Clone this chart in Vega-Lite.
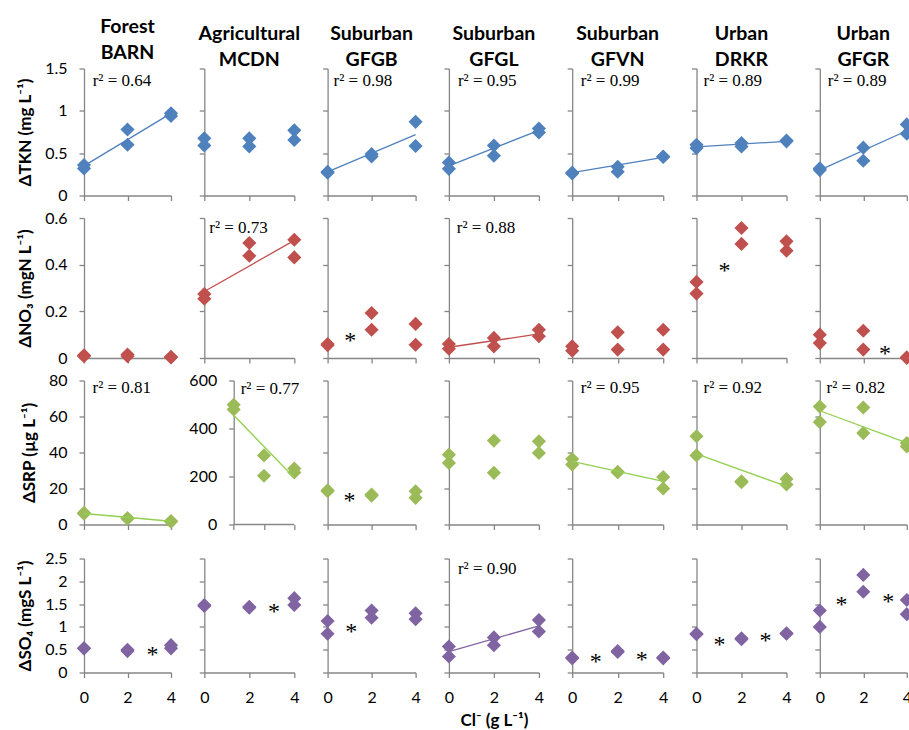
{
"$schema": "https://vega.github.io/schema/vega-lite/v6.json",
"padding": {"left": 16, "top": 16.5, "right": 0, "bottom": 0},
"background": "white",
"datasets": {
"pts": [
{"s":"BARN","v":"TKN","x":0,"y":0.36},{"s":"BARN","v":"TKN","x":0,"y":0.32},{"s":"BARN","v":"TKN","x":2,"y":0.78},{"s":"BARN","v":"TKN","x":2,"y":0.60},{"s":"BARN","v":"TKN","x":4,"y":0.97},{"s":"BARN","v":"TKN","x":4,"y":0.94},
{"s":"MCDN","v":"TKN","x":0,"y":0.675},{"s":"MCDN","v":"TKN","x":0,"y":0.59},{"s":"MCDN","v":"TKN","x":2,"y":0.675},{"s":"MCDN","v":"TKN","x":2,"y":0.58},{"s":"MCDN","v":"TKN","x":4,"y":0.77},{"s":"MCDN","v":"TKN","x":4,"y":0.655},
{"s":"GFGB","v":"TKN","x":0,"y":0.28},{"s":"GFGB","v":"TKN","x":0,"y":0.27},{"s":"GFGB","v":"TKN","x":2,"y":0.49},{"s":"GFGB","v":"TKN","x":2,"y":0.46},{"s":"GFGB","v":"TKN","x":4,"y":0.87},{"s":"GFGB","v":"TKN","x":4,"y":0.585},
{"s":"GFGL","v":"TKN","x":0,"y":0.39},{"s":"GFGL","v":"TKN","x":0,"y":0.315},{"s":"GFGL","v":"TKN","x":2,"y":0.59},{"s":"GFGL","v":"TKN","x":2,"y":0.47},{"s":"GFGL","v":"TKN","x":4,"y":0.79},{"s":"GFGL","v":"TKN","x":4,"y":0.745},
{"s":"GFVN","v":"TKN","x":0,"y":0.27},{"s":"GFVN","v":"TKN","x":0,"y":0.26},{"s":"GFVN","v":"TKN","x":2,"y":0.34},{"s":"GFVN","v":"TKN","x":2,"y":0.28},{"s":"GFVN","v":"TKN","x":4,"y":0.46},{"s":"GFVN","v":"TKN","x":4,"y":0.455},
{"s":"DRKR","v":"TKN","x":0,"y":0.6},{"s":"DRKR","v":"TKN","x":0,"y":0.56},{"s":"DRKR","v":"TKN","x":2,"y":0.62},{"s":"DRKR","v":"TKN","x":2,"y":0.58},{"s":"DRKR","v":"TKN","x":4,"y":0.65},{"s":"DRKR","v":"TKN","x":4,"y":0.64},
{"s":"GFGR","v":"TKN","x":0,"y":0.32},{"s":"GFGR","v":"TKN","x":0,"y":0.30},{"s":"GFGR","v":"TKN","x":2,"y":0.565},{"s":"GFGR","v":"TKN","x":2,"y":0.41},{"s":"GFGR","v":"TKN","x":4,"y":0.84},{"s":"GFGR","v":"TKN","x":4,"y":0.73},
{"s":"BARN","v":"NO3","x":0,"y":0.012},{"s":"BARN","v":"NO3","x":0,"y":0.008},{"s":"BARN","v":"NO3","x":2,"y":0.015},{"s":"BARN","v":"NO3","x":2,"y":0.008},{"s":"BARN","v":"NO3","x":4,"y":0.005},{"s":"BARN","v":"NO3","x":4,"y":0.002},
{"s":"MCDN","v":"NO3","x":0,"y":0.274},{"s":"MCDN","v":"NO3","x":0,"y":0.254},{"s":"MCDN","v":"NO3","x":2,"y":0.493},{"s":"MCDN","v":"NO3","x":2,"y":0.438},{"s":"MCDN","v":"NO3","x":4,"y":0.507},{"s":"MCDN","v":"NO3","x":4,"y":0.431},
{"s":"GFGB","v":"NO3","x":0,"y":0.06},{"s":"GFGB","v":"NO3","x":0,"y":0.055},{"s":"GFGB","v":"NO3","x":2,"y":0.193},{"s":"GFGB","v":"NO3","x":2,"y":0.121},{"s":"GFGB","v":"NO3","x":4,"y":0.146},{"s":"GFGB","v":"NO3","x":4,"y":0.057},
{"s":"GFGL","v":"NO3","x":0,"y":0.06},{"s":"GFGL","v":"NO3","x":0,"y":0.04},{"s":"GFGL","v":"NO3","x":2,"y":0.086},{"s":"GFGL","v":"NO3","x":2,"y":0.05},{"s":"GFGL","v":"NO3","x":4,"y":0.121},{"s":"GFGL","v":"NO3","x":4,"y":0.093},
{"s":"GFVN","v":"NO3","x":0,"y":0.05},{"s":"GFVN","v":"NO3","x":0,"y":0.031},{"s":"GFVN","v":"NO3","x":2,"y":0.11},{"s":"GFVN","v":"NO3","x":2,"y":0.036},{"s":"GFVN","v":"NO3","x":4,"y":0.121},{"s":"GFVN","v":"NO3","x":4,"y":0.036},
{"s":"DRKR","v":"NO3","x":0,"y":0.326},{"s":"DRKR","v":"NO3","x":0,"y":0.276},{"s":"DRKR","v":"NO3","x":2,"y":0.557},{"s":"DRKR","v":"NO3","x":2,"y":0.489},{"s":"DRKR","v":"NO3","x":4,"y":0.5},{"s":"DRKR","v":"NO3","x":4,"y":0.46},
{"s":"GFGR","v":"NO3","x":0,"y":0.1},{"s":"GFGR","v":"NO3","x":0,"y":0.064},{"s":"GFGR","v":"NO3","x":2,"y":0.117},{"s":"GFGR","v":"NO3","x":2,"y":0.036},{"s":"GFGR","v":"NO3","x":4,"y":0.003},{"s":"GFGR","v":"NO3","x":4,"y":0.0},
{"s":"BARN","v":"SRP","x":0,"y":6.5},{"s":"BARN","v":"SRP","x":0,"y":6.0},{"s":"BARN","v":"SRP","x":2,"y":3.6},{"s":"BARN","v":"SRP","x":2,"y":3.2},{"s":"BARN","v":"SRP","x":4,"y":1.9},{"s":"BARN","v":"SRP","x":4,"y":1.5},
{"s":"MCDN","v":"SRP","x":0,"y":499},{"s":"MCDN","v":"SRP","x":0,"y":479},{"s":"MCDN","v":"SRP","x":2,"y":288},{"s":"MCDN","v":"SRP","x":2,"y":203},{"s":"MCDN","v":"SRP","x":4,"y":233},{"s":"MCDN","v":"SRP","x":4,"y":217},
{"s":"GFGB","v":"SRP","x":0,"y":19},{"s":"GFGB","v":"SRP","x":0,"y":18.5},{"s":"GFGB","v":"SRP","x":2,"y":16.6},{"s":"GFGB","v":"SRP","x":2,"y":16},{"s":"GFGB","v":"SRP","x":4,"y":18.5},{"s":"GFGB","v":"SRP","x":4,"y":14.8},
{"s":"GFGL","v":"SRP","x":0,"y":38.8},{"s":"GFGL","v":"SRP","x":0,"y":34.2},{"s":"GFGL","v":"SRP","x":2,"y":46.6},{"s":"GFGL","v":"SRP","x":2,"y":28.7},{"s":"GFGL","v":"SRP","x":4,"y":46.2},{"s":"GFGL","v":"SRP","x":4,"y":39.7},
{"s":"GFVN","v":"SRP","x":0,"y":36.4},{"s":"GFVN","v":"SRP","x":0,"y":33.3},{"s":"GFVN","v":"SRP","x":2,"y":29.2},{"s":"GFVN","v":"SRP","x":2,"y":29.0},{"s":"GFVN","v":"SRP","x":4,"y":26.4},{"s":"GFVN","v":"SRP","x":4,"y":20},
{"s":"DRKR","v":"SRP","x":0,"y":49},{"s":"DRKR","v":"SRP","x":0,"y":38.4},{"s":"DRKR","v":"SRP","x":2,"y":24},{"s":"DRKR","v":"SRP","x":2,"y":23.5},{"s":"DRKR","v":"SRP","x":4,"y":25.3},{"s":"DRKR","v":"SRP","x":4,"y":22.2},
{"s":"GFGR","v":"SRP","x":0,"y":65.5},{"s":"GFGR","v":"SRP","x":0,"y":56.9},{"s":"GFGR","v":"SRP","x":2,"y":65},{"s":"GFGR","v":"SRP","x":2,"y":50.8},{"s":"GFGR","v":"SRP","x":4,"y":45.3},{"s":"GFGR","v":"SRP","x":4,"y":43.4},
{"s":"BARN","v":"SO4","x":0,"y":0.53},{"s":"BARN","v":"SO4","x":0,"y":0.53},{"s":"BARN","v":"SO4","x":2,"y":0.5},{"s":"BARN","v":"SO4","x":2,"y":0.47},{"s":"BARN","v":"SO4","x":4,"y":0.6},{"s":"BARN","v":"SO4","x":4,"y":0.53},
{"s":"MCDN","v":"SO4","x":0,"y":1.48},{"s":"MCDN","v":"SO4","x":0,"y":1.46},{"s":"MCDN","v":"SO4","x":2,"y":1.44},{"s":"MCDN","v":"SO4","x":2,"y":1.42},{"s":"MCDN","v":"SO4","x":4,"y":1.63},{"s":"MCDN","v":"SO4","x":4,"y":1.48},
{"s":"GFGB","v":"SO4","x":0,"y":1.13},{"s":"GFGB","v":"SO4","x":0,"y":0.85},{"s":"GFGB","v":"SO4","x":2,"y":1.36},{"s":"GFGB","v":"SO4","x":2,"y":1.2},{"s":"GFGB","v":"SO4","x":4,"y":1.3},{"s":"GFGB","v":"SO4","x":4,"y":1.17},
{"s":"GFGL","v":"SO4","x":0,"y":0.57},{"s":"GFGL","v":"SO4","x":0,"y":0.35},{"s":"GFGL","v":"SO4","x":2,"y":0.77},{"s":"GFGL","v":"SO4","x":2,"y":0.6},{"s":"GFGL","v":"SO4","x":4,"y":1.15},{"s":"GFGL","v":"SO4","x":4,"y":0.9},
{"s":"GFVN","v":"SO4","x":0,"y":0.33},{"s":"GFVN","v":"SO4","x":0,"y":0.31},{"s":"GFVN","v":"SO4","x":2,"y":0.47},{"s":"GFVN","v":"SO4","x":2,"y":0.45},{"s":"GFVN","v":"SO4","x":4,"y":0.33},{"s":"GFVN","v":"SO4","x":4,"y":0.31},
{"s":"DRKR","v":"SO4","x":0,"y":0.85},{"s":"DRKR","v":"SO4","x":0,"y":0.84},{"s":"DRKR","v":"SO4","x":2,"y":0.75},{"s":"DRKR","v":"SO4","x":2,"y":0.73},{"s":"DRKR","v":"SO4","x":4,"y":0.86},{"s":"DRKR","v":"SO4","x":4,"y":0.85},
{"s":"GFGR","v":"SO4","x":0,"y":1.36},{"s":"GFGR","v":"SO4","x":0,"y":1.0},{"s":"GFGR","v":"SO4","x":2,"y":2.14},{"s":"GFGR","v":"SO4","x":2,"y":1.77},{"s":"GFGR","v":"SO4","x":4,"y":1.59},{"s":"GFGR","v":"SO4","x":4,"y":1.28}
],
"fit": [
{"s":"BARN","v":"TKN","x":0,"y":0.35},{"s":"BARN","v":"TKN","x":4,"y":0.97},
{"s":"GFGB","v":"TKN","x":0,"y":0.28},{"s":"GFGB","v":"TKN","x":4,"y":0.72},
{"s":"GFGL","v":"TKN","x":0,"y":0.35},{"s":"GFGL","v":"TKN","x":4,"y":0.77},
{"s":"GFVN","v":"TKN","x":0,"y":0.27},{"s":"GFVN","v":"TKN","x":4,"y":0.45},
{"s":"DRKR","v":"TKN","x":0,"y":0.575},{"s":"DRKR","v":"TKN","x":4,"y":0.64},
{"s":"GFGR","v":"TKN","x":0,"y":0.30},{"s":"GFGR","v":"TKN","x":4,"y":0.765},
{"s":"MCDN","v":"NO3","x":0,"y":0.285},{"s":"MCDN","v":"NO3","x":4,"y":0.504},
{"s":"GFGL","v":"NO3","x":0,"y":0.046},{"s":"GFGL","v":"NO3","x":4,"y":0.103},
{"s":"BARN","v":"SRP","x":0,"y":6.1},{"s":"BARN","v":"SRP","x":4,"y":1.8},
{"s":"MCDN","v":"SRP","x":0,"y":455},{"s":"MCDN","v":"SRP","x":4,"y":195},
{"s":"GFVN","v":"SRP","x":0,"y":35.1},{"s":"GFVN","v":"SRP","x":4,"y":24},
{"s":"DRKR","v":"SRP","x":0,"y":39.2},{"s":"DRKR","v":"SRP","x":4,"y":21.2},
{"s":"GFGR","v":"SRP","x":0,"y":63.2},{"s":"GFGR","v":"SRP","x":4,"y":45.3},
{"s":"GFGL","v":"SO4","x":0,"y":0.46},{"s":"GFGL","v":"SO4","x":4,"y":1.02}
],
"base": [
{"s":"MCDN","v":"SRP","x":0,"x2":4,"y":0}
],
"r2": [
{"s":"BARN","v":"TKN","x":0.4,"y":1.35,"t":"r² = 0.64"},
{"s":"GFGB","v":"TKN","x":0.27,"y":1.35,"t":"r² = 0.98"},
{"s":"GFGL","v":"TKN","x":0.4,"y":1.35,"t":"r² = 0.95"},
{"s":"GFVN","v":"TKN","x":0.38,"y":1.35,"t":"r² = 0.99"},
{"s":"DRKR","v":"TKN","x":0.31,"y":1.35,"t":"r² = 0.89"},
{"s":"GFGR","v":"TKN","x":0.37,"y":1.35,"t":"r² = 0.89"},
{"s":"MCDN","v":"NO3","x":0.22,"y":0.557,"t":"r² = 0.73"},
{"s":"GFGL","v":"NO3","x":0.35,"y":0.557,"t":"r² = 0.88"},
{"s":"BARN","v":"SRP","x":0.39,"y":76,"t":"r² = 0.81"},
{"s":"MCDN","v":"SRP","x":0.46,"y":566,"t":"r² = 0.77"},
{"s":"GFVN","v":"SRP","x":0.38,"y":76,"t":"r² = 0.95"},
{"s":"DRKR","v":"SRP","x":0.31,"y":76,"t":"r² = 0.92"},
{"s":"GFGR","v":"SRP","x":0.31,"y":76,"t":"r² = 0.82"},
{"s":"GFGL","v":"SO4","x":0.4,"y":2.26,"t":"r² = 0.90"}
],
"star": [
{"s":"GFGB","v":"NO3","x":1.03,"y":0.093},{"s":"DRKR","v":"NO3","x":1.24,"y":0.393},{"s":"GFGR","v":"NO3","x":3.0,"y":0.04},
{"s":"GFGB","v":"SRP","x":1.0,"y":15.7},
{"s":"BARN","v":"SO4","x":3.15,"y":0.5},{"s":"MCDN","v":"SO4","x":3.1,"y":1.44},{"s":"GFGB","v":"SO4","x":1.07,"y":1.0},
{"s":"GFVN","v":"SO4","x":1.03,"y":0.34},{"s":"GFVN","v":"SO4","x":3.06,"y":0.39},
{"s":"DRKR","v":"SO4","x":1.02,"y":0.72},{"s":"DRKR","v":"SO4","x":3.07,"y":0.79},
{"s":"GFGR","v":"SO4","x":1.0,"y":1.59},{"s":"GFGR","v":"SO4","x":3.15,"y":1.66}
]
},
"vconcat": [
{"concat": [
{"width":87,"height":127,"title":{"text":["Forest","BARN"]},
"encoding":{"x":{"field":"x","type":"quantitative","scale":{"domain":[0,4],"nice":false,"zero":false},"axis":{"values":[0,2,4],"labels":false,"title":null}},"y":{"field":"y","type":"quantitative","scale":{"domain":[0,1.5],"nice":false},"axis":{"values":[0,0.5,1,1.5],"labelExpr":"datum.value","title":"ΔTKN (mg L⁻¹)"}}},
"layer":[
{"data":{"name":"pts"},"transform":[{"filter":"datum.s=='BARN'&&datum.v=='TKN'"}],"mark":{"type":"point","shape":"diamond","filled":true,"size":200,"opacity":1,"color":"#4F81BD"}},
{"data":{"name":"fit"},"transform":[{"filter":"datum.s=='BARN'&&datum.v=='TKN'"}],"mark":{"type":"line","color":"#4F81BD","strokeWidth":1.3},"encoding":{}},
{"data":{"name":"r2"},"transform":[{"filter":"datum.s=='BARN'&&datum.v=='TKN'"}],"mark":{"type":"text","font":"Liberation Serif","fontSize":17,"align":"left","baseline":"middle","color":"#000"},"encoding":{"text":{"field":"t"}}}
]},
{"width":90,"height":127,"title":{"text":["Agricultural","MCDN"]},
"encoding":{"x":{"field":"x","type":"quantitative","scale":{"domain":[0,4],"nice":false,"zero":false},"axis":{"values":[0,2,4],"labels":false,"title":null}},"y":{"field":"y","type":"quantitative","scale":{"domain":[0,1.5],"nice":false},"axis":{"values":[0,0.5,1,1.5],"labels":false,"title":null}}},
"layer":[
{"data":{"name":"pts"},"transform":[{"filter":"datum.s=='MCDN'&&datum.v=='TKN'"}],"mark":{"type":"point","shape":"diamond","filled":true,"size":200,"opacity":1,"color":"#4F81BD"}}
]},
{"width":88,"height":127,"title":{"text":["Suburban","GFGB"]},
"encoding":{"x":{"field":"x","type":"quantitative","scale":{"domain":[0,4],"nice":false,"zero":false},"axis":{"values":[0,2,4],"labels":false,"title":null}},"y":{"field":"y","type":"quantitative","scale":{"domain":[0,1.5],"nice":false},"axis":{"values":[0,0.5,1,1.5],"labels":false,"title":null}}},
"layer":[
{"data":{"name":"pts"},"transform":[{"filter":"datum.s=='GFGB'&&datum.v=='TKN'"}],"mark":{"type":"point","shape":"diamond","filled":true,"size":200,"opacity":1,"color":"#4F81BD"}},
{"data":{"name":"fit"},"transform":[{"filter":"datum.s=='GFGB'&&datum.v=='TKN'"}],"mark":{"type":"line","color":"#4F81BD","strokeWidth":1.3},"encoding":{}},
{"data":{"name":"r2"},"transform":[{"filter":"datum.s=='GFGB'&&datum.v=='TKN'"}],"mark":{"type":"text","font":"Liberation Serif","fontSize":17,"align":"left","baseline":"middle","color":"#000"},"encoding":{"text":{"field":"t"}}}
]},
{"width":90,"height":127,"title":{"text":["Suburban","GFGL"]},
"encoding":{"x":{"field":"x","type":"quantitative","scale":{"domain":[0,4],"nice":false,"zero":false},"axis":{"values":[0,2,4],"labels":false,"title":null}},"y":{"field":"y","type":"quantitative","scale":{"domain":[0,1.5],"nice":false},"axis":{"values":[0,0.5,1,1.5],"labels":false,"title":null}}},
"layer":[
{"data":{"name":"pts"},"transform":[{"filter":"datum.s=='GFGL'&&datum.v=='TKN'"}],"mark":{"type":"point","shape":"diamond","filled":true,"size":200,"opacity":1,"color":"#4F81BD"}},
{"data":{"name":"fit"},"transform":[{"filter":"datum.s=='GFGL'&&datum.v=='TKN'"}],"mark":{"type":"line","color":"#4F81BD","strokeWidth":1.3},"encoding":{}},
{"data":{"name":"r2"},"transform":[{"filter":"datum.s=='GFGL'&&datum.v=='TKN'"}],"mark":{"type":"text","font":"Liberation Serif","fontSize":17,"align":"left","baseline":"middle","color":"#000"},"encoding":{"text":{"field":"t"}}}
]},
{"width":91,"height":127,"title":{"text":["Suburban","GFVN"]},
"encoding":{"x":{"field":"x","type":"quantitative","scale":{"domain":[0,4],"nice":false,"zero":false},"axis":{"values":[0,2,4],"labels":false,"title":null}},"y":{"field":"y","type":"quantitative","scale":{"domain":[0,1.5],"nice":false},"axis":{"values":[0,0.5,1,1.5],"labels":false,"title":null}}},
"layer":[
{"data":{"name":"pts"},"transform":[{"filter":"datum.s=='GFVN'&&datum.v=='TKN'"}],"mark":{"type":"point","shape":"diamond","filled":true,"size":200,"opacity":1,"color":"#4F81BD"}},
{"data":{"name":"fit"},"transform":[{"filter":"datum.s=='GFVN'&&datum.v=='TKN'"}],"mark":{"type":"line","color":"#4F81BD","strokeWidth":1.3},"encoding":{}},
{"data":{"name":"r2"},"transform":[{"filter":"datum.s=='GFVN'&&datum.v=='TKN'"}],"mark":{"type":"text","font":"Liberation Serif","fontSize":17,"align":"left","baseline":"middle","color":"#000"},"encoding":{"text":{"field":"t"}}}
]},
{"width":90,"height":127,"title":{"text":["Urban","DRKR"]},
"encoding":{"x":{"field":"x","type":"quantitative","scale":{"domain":[0,4],"nice":false,"zero":false},"axis":{"values":[0,2,4],"labels":false,"title":null}},"y":{"field":"y","type":"quantitative","scale":{"domain":[0,1.5],"nice":false},"axis":{"values":[0,0.5,1,1.5],"labels":false,"title":null}}},
"layer":[
{"data":{"name":"pts"},"transform":[{"filter":"datum.s=='DRKR'&&datum.v=='TKN'"}],"mark":{"type":"point","shape":"diamond","filled":true,"size":200,"opacity":1,"color":"#4F81BD"}},
{"data":{"name":"fit"},"transform":[{"filter":"datum.s=='DRKR'&&datum.v=='TKN'"}],"mark":{"type":"line","color":"#4F81BD","strokeWidth":1.3},"encoding":{}},
{"data":{"name":"r2"},"transform":[{"filter":"datum.s=='DRKR'&&datum.v=='TKN'"}],"mark":{"type":"text","font":"Liberation Serif","fontSize":17,"align":"left","baseline":"middle","color":"#000"},"encoding":{"text":{"field":"t"}}}
]},
{"width":87,"height":127,"title":{"text":["Urban","GFGR"]},
"encoding":{"x":{"field":"x","type":"quantitative","scale":{"domain":[0,4],"nice":false,"zero":false},"axis":{"values":[0,2,4],"labels":false,"title":null}},"y":{"field":"y","type":"quantitative","scale":{"domain":[0,1.5],"nice":false},"axis":{"values":[0,0.5,1,1.5],"labels":false,"title":null}}},
"layer":[
{"data":{"name":"pts"},"transform":[{"filter":"datum.s=='GFGR'&&datum.v=='TKN'"}],"mark":{"type":"point","shape":"diamond","filled":true,"size":200,"opacity":1,"color":"#4F81BD"}},
{"data":{"name":"fit"},"transform":[{"filter":"datum.s=='GFGR'&&datum.v=='TKN'"}],"mark":{"type":"line","color":"#4F81BD","strokeWidth":1.3},"encoding":{}},
{"data":{"name":"r2"},"transform":[{"filter":"datum.s=='GFGR'&&datum.v=='TKN'"}],"mark":{"type":"text","font":"Liberation Serif","fontSize":17,"align":"left","baseline":"middle","color":"#000"},"encoding":{"text":{"field":"t"}}}
]},
{"width":87,"height":140,
"encoding":{"x":{"field":"x","type":"quantitative","scale":{"domain":[0,4],"nice":false,"zero":false},"axis":{"values":[0,2,4],"labels":false,"title":null}},"y":{"field":"y","type":"quantitative","scale":{"domain":[0,0.6],"nice":false},"axis":{"values":[0,0.2,0.4,0.6],"labelExpr":"datum.value","title":"ΔNO₃ (mgN L⁻¹)"}}},
"layer":[
{"data":{"name":"pts"},"transform":[{"filter":"datum.s=='BARN'&&datum.v=='NO3'"}],"mark":{"type":"point","shape":"diamond","filled":true,"size":200,"opacity":1,"color":"#C0504D"}}
]},
{"width":90,"height":140,
"encoding":{"x":{"field":"x","type":"quantitative","scale":{"domain":[0,4],"nice":false,"zero":false},"axis":{"values":[0,2,4],"labels":false,"title":null}},"y":{"field":"y","type":"quantitative","scale":{"domain":[0,0.6],"nice":false},"axis":{"values":[0,0.2,0.4,0.6],"labels":false,"title":null}}},
"layer":[
{"data":{"name":"pts"},"transform":[{"filter":"datum.s=='MCDN'&&datum.v=='NO3'"}],"mark":{"type":"point","shape":"diamond","filled":true,"size":200,"opacity":1,"color":"#C0504D"}},
{"data":{"name":"fit"},"transform":[{"filter":"datum.s=='MCDN'&&datum.v=='NO3'"}],"mark":{"type":"line","color":"#C0504D","strokeWidth":1.3},"encoding":{}},
{"data":{"name":"r2"},"transform":[{"filter":"datum.s=='MCDN'&&datum.v=='NO3'"}],"mark":{"type":"text","font":"Liberation Serif","fontSize":17,"align":"left","baseline":"middle","color":"#000"},"encoding":{"text":{"field":"t"}}}
]},
{"width":88,"height":140,
"encoding":{"x":{"field":"x","type":"quantitative","scale":{"domain":[0,4],"nice":false,"zero":false},"axis":{"values":[0,2,4],"labels":false,"title":null}},"y":{"field":"y","type":"quantitative","scale":{"domain":[0,0.6],"nice":false},"axis":{"values":[0,0.2,0.4,0.6],"labels":false,"title":null}}},
"layer":[
{"data":{"name":"pts"},"transform":[{"filter":"datum.s=='GFGB'&&datum.v=='NO3'"}],"mark":{"type":"point","shape":"diamond","filled":true,"size":200,"opacity":1,"color":"#C0504D"}},
{"data":{"name":"star"},"transform":[{"filter":"datum.s=='GFGB'&&datum.v=='NO3'"}],"mark":{"type":"text","text":"*","font":"Liberation Serif","fontSize":24,"baseline":"middle","dy":5,"color":"#000"},"encoding":{}}
]},
{"width":90,"height":140,
"encoding":{"x":{"field":"x","type":"quantitative","scale":{"domain":[0,4],"nice":false,"zero":false},"axis":{"values":[0,2,4],"labels":false,"title":null}},"y":{"field":"y","type":"quantitative","scale":{"domain":[0,0.6],"nice":false},"axis":{"values":[0,0.2,0.4,0.6],"labels":false,"title":null}}},
"layer":[
{"data":{"name":"pts"},"transform":[{"filter":"datum.s=='GFGL'&&datum.v=='NO3'"}],"mark":{"type":"point","shape":"diamond","filled":true,"size":200,"opacity":1,"color":"#C0504D"}},
{"data":{"name":"fit"},"transform":[{"filter":"datum.s=='GFGL'&&datum.v=='NO3'"}],"mark":{"type":"line","color":"#C0504D","strokeWidth":1.3},"encoding":{}},
{"data":{"name":"r2"},"transform":[{"filter":"datum.s=='GFGL'&&datum.v=='NO3'"}],"mark":{"type":"text","font":"Liberation Serif","fontSize":17,"align":"left","baseline":"middle","color":"#000"},"encoding":{"text":{"field":"t"}}}
]},
{"width":91,"height":140,
"encoding":{"x":{"field":"x","type":"quantitative","scale":{"domain":[0,4],"nice":false,"zero":false},"axis":{"values":[0,2,4],"labels":false,"title":null}},"y":{"field":"y","type":"quantitative","scale":{"domain":[0,0.6],"nice":false},"axis":{"values":[0,0.2,0.4,0.6],"labels":false,"title":null}}},
"layer":[
{"data":{"name":"pts"},"transform":[{"filter":"datum.s=='GFVN'&&datum.v=='NO3'"}],"mark":{"type":"point","shape":"diamond","filled":true,"size":200,"opacity":1,"color":"#C0504D"}}
]},
{"width":90,"height":140,
"encoding":{"x":{"field":"x","type":"quantitative","scale":{"domain":[0,4],"nice":false,"zero":false},"axis":{"values":[0,2,4],"labels":false,"title":null}},"y":{"field":"y","type":"quantitative","scale":{"domain":[0,0.6],"nice":false},"axis":{"values":[0,0.2,0.4,0.6],"labels":false,"title":null}}},
"layer":[
{"data":{"name":"pts"},"transform":[{"filter":"datum.s=='DRKR'&&datum.v=='NO3'"}],"mark":{"type":"point","shape":"diamond","filled":true,"size":200,"opacity":1,"color":"#C0504D"}},
{"data":{"name":"star"},"transform":[{"filter":"datum.s=='DRKR'&&datum.v=='NO3'"}],"mark":{"type":"text","text":"*","font":"Liberation Serif","fontSize":24,"baseline":"middle","dy":5,"color":"#000"},"encoding":{}}
]},
{"width":87,"height":140,
"encoding":{"x":{"field":"x","type":"quantitative","scale":{"domain":[0,4],"nice":false,"zero":false},"axis":{"values":[0,2,4],"labels":false,"title":null}},"y":{"field":"y","type":"quantitative","scale":{"domain":[0,0.6],"nice":false},"axis":{"values":[0,0.2,0.4,0.6],"labels":false,"title":null}}},
"layer":[
{"data":{"name":"pts"},"transform":[{"filter":"datum.s=='GFGR'&&datum.v=='NO3'"}],"mark":{"type":"point","shape":"diamond","filled":true,"size":200,"opacity":1,"color":"#C0504D"}},
{"data":{"name":"star"},"transform":[{"filter":"datum.s=='GFGR'&&datum.v=='NO3'"}],"mark":{"type":"text","text":"*","font":"Liberation Serif","fontSize":24,"baseline":"middle","dy":5,"color":"#000"},"encoding":{}}
]},
{"width":87,"height":144,
"encoding":{"x":{"field":"x","type":"quantitative","scale":{"domain":[0,4],"nice":false,"zero":false},"axis":{"values":[0,2,4],"labels":false,"title":null}},"y":{"field":"y","type":"quantitative","scale":{"domain":[0,80],"nice":false},"axis":{"values":[0,20,40,60,80],"labelExpr":"datum.value","title":"ΔSRP (µg L⁻¹)"}}},
"layer":[
{"data":{"name":"pts"},"transform":[{"filter":"datum.s=='BARN'&&datum.v=='SRP'"}],"mark":{"type":"point","shape":"diamond","filled":true,"size":200,"opacity":1,"color":"#9BBB59"}},
{"data":{"name":"fit"},"transform":[{"filter":"datum.s=='BARN'&&datum.v=='SRP'"}],"mark":{"type":"line","color":"#92D050","strokeWidth":1.3},"encoding":{}},
{"data":{"name":"r2"},"transform":[{"filter":"datum.s=='BARN'&&datum.v=='SRP'"}],"mark":{"type":"text","font":"Liberation Serif","fontSize":17,"align":"left","baseline":"middle","color":"#000"},"encoding":{"text":{"field":"t"}}}
]},
{"width":90,"height":144,
"encoding":{"x":{"field":"x","type":"quantitative","scale":{"domain":[-1.94,4],"nice":false,"zero":false},"axis":{"values":[0,2,4],"labels":false,"title":null,"domain":false}},"y":{"field":"y","type":"quantitative","scale":{"domain":[0,600],"nice":false},"axis":{"values":[0,200,400,600],"labelExpr":"datum.value","title":null,"offset":-29.4}}},
"layer":[
{"data":{"name":"base"},"transform":[{"filter":"datum.s=='MCDN'&&datum.v=='SRP'"}],"mark":{"type":"rule","color":"#868686","strokeWidth":1.3},"encoding":{"x2":{"field":"x2"}}},
{"data":{"name":"pts"},"transform":[{"filter":"datum.s=='MCDN'&&datum.v=='SRP'"}],"mark":{"type":"point","shape":"diamond","filled":true,"size":200,"opacity":1,"color":"#9BBB59"}},
{"data":{"name":"fit"},"transform":[{"filter":"datum.s=='MCDN'&&datum.v=='SRP'"}],"mark":{"type":"line","color":"#92D050","strokeWidth":1.3},"encoding":{}},
{"data":{"name":"r2"},"transform":[{"filter":"datum.s=='MCDN'&&datum.v=='SRP'"}],"mark":{"type":"text","font":"Liberation Serif","fontSize":17,"align":"left","baseline":"middle","color":"#000"},"encoding":{"text":{"field":"t"}}}
]},
{"width":88,"height":144,
"encoding":{"x":{"field":"x","type":"quantitative","scale":{"domain":[0,4],"nice":false,"zero":false},"axis":{"values":[0,2,4],"labels":false,"title":null}},"y":{"field":"y","type":"quantitative","scale":{"domain":[0,80],"nice":false},"axis":{"values":[0,20,40,60,80],"labels":false,"title":null}}},
"layer":[
{"data":{"name":"pts"},"transform":[{"filter":"datum.s=='GFGB'&&datum.v=='SRP'"}],"mark":{"type":"point","shape":"diamond","filled":true,"size":200,"opacity":1,"color":"#9BBB59"}},
{"data":{"name":"star"},"transform":[{"filter":"datum.s=='GFGB'&&datum.v=='SRP'"}],"mark":{"type":"text","text":"*","font":"Liberation Serif","fontSize":24,"baseline":"middle","dy":5,"color":"#000"},"encoding":{}}
]},
{"width":90,"height":144,
"encoding":{"x":{"field":"x","type":"quantitative","scale":{"domain":[0,4],"nice":false,"zero":false},"axis":{"values":[0,2,4],"labels":false,"title":null}},"y":{"field":"y","type":"quantitative","scale":{"domain":[0,80],"nice":false},"axis":{"values":[0,20,40,60,80],"labels":false,"title":null}}},
"layer":[
{"data":{"name":"pts"},"transform":[{"filter":"datum.s=='GFGL'&&datum.v=='SRP'"}],"mark":{"type":"point","shape":"diamond","filled":true,"size":200,"opacity":1,"color":"#9BBB59"}}
]},
{"width":91,"height":144,
"encoding":{"x":{"field":"x","type":"quantitative","scale":{"domain":[0,4],"nice":false,"zero":false},"axis":{"values":[0,2,4],"labels":false,"title":null}},"y":{"field":"y","type":"quantitative","scale":{"domain":[0,80],"nice":false},"axis":{"values":[0,20,40,60,80],"labels":false,"title":null}}},
"layer":[
{"data":{"name":"pts"},"transform":[{"filter":"datum.s=='GFVN'&&datum.v=='SRP'"}],"mark":{"type":"point","shape":"diamond","filled":true,"size":200,"opacity":1,"color":"#9BBB59"}},
{"data":{"name":"fit"},"transform":[{"filter":"datum.s=='GFVN'&&datum.v=='SRP'"}],"mark":{"type":"line","color":"#92D050","strokeWidth":1.3},"encoding":{}},
{"data":{"name":"r2"},"transform":[{"filter":"datum.s=='GFVN'&&datum.v=='SRP'"}],"mark":{"type":"text","font":"Liberation Serif","fontSize":17,"align":"left","baseline":"middle","color":"#000"},"encoding":{"text":{"field":"t"}}}
]},
{"width":90,"height":144,
"encoding":{"x":{"field":"x","type":"quantitative","scale":{"domain":[0,4],"nice":false,"zero":false},"axis":{"values":[0,2,4],"labels":false,"title":null}},"y":{"field":"y","type":"quantitative","scale":{"domain":[0,80],"nice":false},"axis":{"values":[0,20,40,60,80],"labels":false,"title":null}}},
"layer":[
{"data":{"name":"pts"},"transform":[{"filter":"datum.s=='DRKR'&&datum.v=='SRP'"}],"mark":{"type":"point","shape":"diamond","filled":true,"size":200,"opacity":1,"color":"#9BBB59"}},
{"data":{"name":"fit"},"transform":[{"filter":"datum.s=='DRKR'&&datum.v=='SRP'"}],"mark":{"type":"line","color":"#92D050","strokeWidth":1.3},"encoding":{}},
{"data":{"name":"r2"},"transform":[{"filter":"datum.s=='DRKR'&&datum.v=='SRP'"}],"mark":{"type":"text","font":"Liberation Serif","fontSize":17,"align":"left","baseline":"middle","color":"#000"},"encoding":{"text":{"field":"t"}}}
]},
{"width":87,"height":144,
"encoding":{"x":{"field":"x","type":"quantitative","scale":{"domain":[0,4],"nice":false,"zero":false},"axis":{"values":[0,2,4],"labels":false,"title":null}},"y":{"field":"y","type":"quantitative","scale":{"domain":[0,80],"nice":false},"axis":{"values":[0,20,40,60,80],"labels":false,"title":null}}},
"layer":[
{"data":{"name":"pts"},"transform":[{"filter":"datum.s=='GFGR'&&datum.v=='SRP'"}],"mark":{"type":"point","shape":"diamond","filled":true,"size":200,"opacity":1,"color":"#9BBB59"}},
{"data":{"name":"fit"},"transform":[{"filter":"datum.s=='GFGR'&&datum.v=='SRP'"}],"mark":{"type":"line","color":"#92D050","strokeWidth":1.3},"encoding":{}},
{"data":{"name":"r2"},"transform":[{"filter":"datum.s=='GFGR'&&datum.v=='SRP'"}],"mark":{"type":"text","font":"Liberation Serif","fontSize":17,"align":"left","baseline":"middle","color":"#000"},"encoding":{"text":{"field":"t"}}}
]}
],"columns":7,"align":"each","spacing":{"row":22.5,"column":33.3},"bounds":"flush"},
{"hconcat": [
{"width":87,"height":114,
"encoding":{"x":{"field":"x","type":"quantitative","scale":{"domain":[0,4],"nice":false,"zero":false},"axis":{"values":[0,2,4],"title":null}},"y":{"field":"y","type":"quantitative","scale":{"domain":[0,2.5],"nice":false},"axis":{"values":[0,0.5,1,1.5,2,2.5],"labelExpr":"datum.value","title":"ΔSO₄ (mgS L⁻¹)"}}},
"layer":[
{"data":{"name":"pts"},"transform":[{"filter":"datum.s=='BARN'&&datum.v=='SO4'"}],"mark":{"type":"point","shape":"diamond","filled":true,"size":200,"opacity":1,"color":"#8064A2"}},
{"data":{"name":"star"},"transform":[{"filter":"datum.s=='BARN'&&datum.v=='SO4'"}],"mark":{"type":"text","text":"*","font":"Liberation Serif","fontSize":24,"baseline":"middle","dy":5,"color":"#000"},"encoding":{}}
]},
{"width":90,"height":114,
"encoding":{"x":{"field":"x","type":"quantitative","scale":{"domain":[0,4],"nice":false,"zero":false},"axis":{"values":[0,2,4],"title":null}},"y":{"field":"y","type":"quantitative","scale":{"domain":[0,2.5],"nice":false},"axis":{"values":[0,0.5,1,1.5,2,2.5],"labels":false,"title":null}}},
"layer":[
{"data":{"name":"pts"},"transform":[{"filter":"datum.s=='MCDN'&&datum.v=='SO4'"}],"mark":{"type":"point","shape":"diamond","filled":true,"size":200,"opacity":1,"color":"#8064A2"}},
{"data":{"name":"star"},"transform":[{"filter":"datum.s=='MCDN'&&datum.v=='SO4'"}],"mark":{"type":"text","text":"*","font":"Liberation Serif","fontSize":24,"baseline":"middle","dy":5,"color":"#000"},"encoding":{}}
]},
{"width":88,"height":114,
"encoding":{"x":{"field":"x","type":"quantitative","scale":{"domain":[0,4],"nice":false,"zero":false},"axis":{"values":[0,2,4],"title":null}},"y":{"field":"y","type":"quantitative","scale":{"domain":[0,2.5],"nice":false},"axis":{"values":[0,0.5,1,1.5,2,2.5],"labels":false,"title":null}}},
"layer":[
{"data":{"name":"pts"},"transform":[{"filter":"datum.s=='GFGB'&&datum.v=='SO4'"}],"mark":{"type":"point","shape":"diamond","filled":true,"size":200,"opacity":1,"color":"#8064A2"}},
{"data":{"name":"star"},"transform":[{"filter":"datum.s=='GFGB'&&datum.v=='SO4'"}],"mark":{"type":"text","text":"*","font":"Liberation Serif","fontSize":24,"baseline":"middle","dy":5,"color":"#000"},"encoding":{}}
]},
{"width":90,"height":114,
"encoding":{"x":{"field":"x","type":"quantitative","scale":{"domain":[0,4],"nice":false,"zero":false},"axis":{"values":[0,2,4],"title":"Cl⁻ (g L⁻¹)"}},"y":{"field":"y","type":"quantitative","scale":{"domain":[0,2.5],"nice":false},"axis":{"values":[0,0.5,1,1.5,2,2.5],"labels":false,"title":null}}},
"layer":[
{"data":{"name":"pts"},"transform":[{"filter":"datum.s=='GFGL'&&datum.v=='SO4'"}],"mark":{"type":"point","shape":"diamond","filled":true,"size":200,"opacity":1,"color":"#8064A2"}},
{"data":{"name":"fit"},"transform":[{"filter":"datum.s=='GFGL'&&datum.v=='SO4'"}],"mark":{"type":"line","color":"#8064A2","strokeWidth":1.3},"encoding":{}},
{"data":{"name":"r2"},"transform":[{"filter":"datum.s=='GFGL'&&datum.v=='SO4'"}],"mark":{"type":"text","font":"Liberation Serif","fontSize":17,"align":"left","baseline":"middle","color":"#000"},"encoding":{"text":{"field":"t"}}}
]},
{"width":91,"height":114,
"encoding":{"x":{"field":"x","type":"quantitative","scale":{"domain":[0,4],"nice":false,"zero":false},"axis":{"values":[0,2,4],"title":null}},"y":{"field":"y","type":"quantitative","scale":{"domain":[0,2.5],"nice":false},"axis":{"values":[0,0.5,1,1.5,2,2.5],"labels":false,"title":null}}},
"layer":[
{"data":{"name":"pts"},"transform":[{"filter":"datum.s=='GFVN'&&datum.v=='SO4'"}],"mark":{"type":"point","shape":"diamond","filled":true,"size":200,"opacity":1,"color":"#8064A2"}},
{"data":{"name":"star"},"transform":[{"filter":"datum.s=='GFVN'&&datum.v=='SO4'"}],"mark":{"type":"text","text":"*","font":"Liberation Serif","fontSize":24,"baseline":"middle","dy":5,"color":"#000"},"encoding":{}}
]},
{"width":90,"height":114,
"encoding":{"x":{"field":"x","type":"quantitative","scale":{"domain":[0,4],"nice":false,"zero":false},"axis":{"values":[0,2,4],"title":null}},"y":{"field":"y","type":"quantitative","scale":{"domain":[0,2.5],"nice":false},"axis":{"values":[0,0.5,1,1.5,2,2.5],"labels":false,"title":null}}},
"layer":[
{"data":{"name":"pts"},"transform":[{"filter":"datum.s=='DRKR'&&datum.v=='SO4'"}],"mark":{"type":"point","shape":"diamond","filled":true,"size":200,"opacity":1,"color":"#8064A2"}},
{"data":{"name":"star"},"transform":[{"filter":"datum.s=='DRKR'&&datum.v=='SO4'"}],"mark":{"type":"text","text":"*","font":"Liberation Serif","fontSize":24,"baseline":"middle","dy":5,"color":"#000"},"encoding":{}}
]},
{"width":87,"height":114,
"encoding":{"x":{"field":"x","type":"quantitative","scale":{"domain":[0,4],"nice":false,"zero":false},"axis":{"values":[0,2,4],"title":null}},"y":{"field":"y","type":"quantitative","scale":{"domain":[0,2.5],"nice":false},"axis":{"values":[0,0.5,1,1.5,2,2.5],"labels":false,"title":null}}},
"layer":[
{"data":{"name":"pts"},"transform":[{"filter":"datum.s=='GFGR'&&datum.v=='SO4'"}],"mark":{"type":"point","shape":"diamond","filled":true,"size":200,"opacity":1,"color":"#8064A2"}},
{"data":{"name":"star"},"transform":[{"filter":"datum.s=='GFGR'&&datum.v=='SO4'"}],"mark":{"type":"text","text":"*","font":"Liberation Serif","fontSize":24,"baseline":"middle","dy":5,"color":"#000"},"encoding":{}}
]}
],"spacing":33.3,"bounds":"flush"}
],
"spacing":18,
"config":{
"view":{"stroke":null},
"font":"Lato",
"axis":{"grid":false,"domainColor":"#868686","tickColor":"#868686","domainWidth":1.3,"tickWidth":1.3,"tickSize":5,"labelFont":"Lato","labelFontSize":16,"labelColor":"#000","titleFont":"Lato","titleFontSize":17,"titleFontWeight":"bold","titleColor":"#000","labelFlush":false,"labelOverlap":false},
"axisX":{"labelPadding":12,"titlePadding":7},
"axisY":{"labelPadding":12,"titlePadding":10},
"title":{"font":"Lato","fontSize":19.5,"fontWeight":"bold","color":"#000","lineHeight":26,"offset":-3}
}
}
